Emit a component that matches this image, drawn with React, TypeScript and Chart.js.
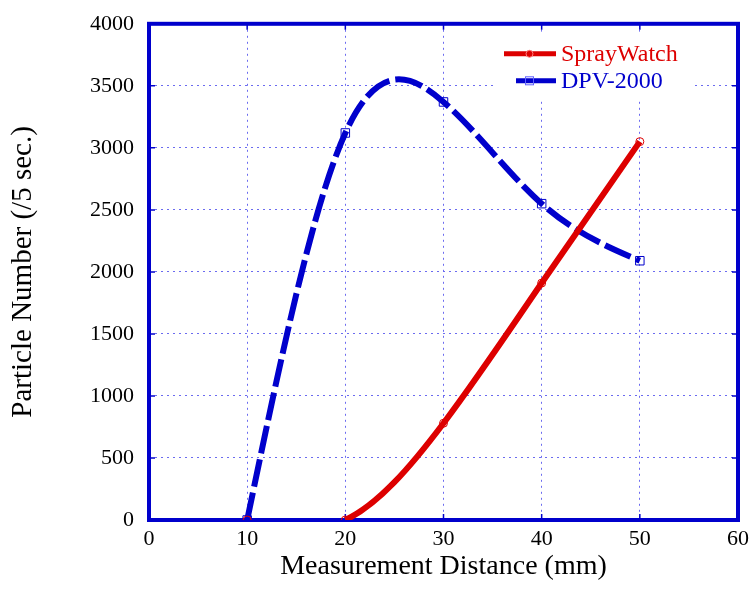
import React, { useEffect, useRef } from "react";
import { Chart, registerables } from "chart.js";

Chart.register(...registerables);

const distances = [10, 20, 30, 40, 50];
const sprayWatchValues = [0, 0, 780, 1910, 3050];
const dpvValues = [0, 3120, 3370, 2550, 2090];
const seriesNames = ["SprayWatch", "DPV-2000"];
const xTickValues = [0, 10, 20, 30, 40, 50, 60];
const yTickValues = [0, 500, 1000, 1500, 2000, 2500, 3000, 3500, 4000];
const xTitle = "Measurement Distance (mm)";
const yTitle = "Particle Number (/5 sec.)";

const AXIS_BLUE = "#0000cc";
const DPV_BLUE = "#0000cc";
const RED = "#dd0000";
const GRID = "#6b6bf0";
const FONT = "'Liberation Serif', 'Times New Roman', serif";

// Natural cubic spline: sets Bezier control points on the library's own point elements
const naturalSplinePlugin = {
  id: "naturalSpline",
  beforeDatasetsDraw(chart: any) {
    chart.data.datasets.forEach((ds: any, di: number) => {
      const meta = chart.getDatasetMeta(di);
      const line = meta.dataset;
      if (!line || !ds.naturalSpline || meta.hidden) return;
      line.updateControlPoints(chart.chartArea, meta.iScale ? meta.iScale.axis : "x");
      const pts = meta.data;
      const n = pts.length;
      if (n < 3) return;
      const xs = pts.map((p: any) => p.x);
      const ys = pts.map((p: any) => p.y);
      const h: number[] = [];
      for (let i = 0; i < n - 1; i++) h.push(xs[i + 1] - xs[i]);
      const M = new Array(n).fill(0);
      const a: number[] = [], b: number[] = [], c: number[] = [], d: number[] = [];
      for (let i = 1; i < n - 1; i++) {
        a.push(h[i - 1]);
        b.push(2 * (h[i - 1] + h[i]));
        c.push(h[i]);
        d.push(6 * ((ys[i + 1] - ys[i]) / h[i] - (ys[i] - ys[i - 1]) / h[i - 1]));
      }
      const m = a.length;
      const cp: number[] = new Array(m).fill(0);
      const dp: number[] = new Array(m).fill(0);
      for (let i = 0; i < m; i++) {
        const denom = b[i] - (i > 0 ? a[i] * cp[i - 1] : 0);
        cp[i] = c[i] / denom;
        dp[i] = (d[i] - (i > 0 ? a[i] * dp[i - 1] : 0)) / denom;
      }
      for (let i = m - 1; i >= 0; i--) {
        M[i + 1] = dp[i] - (i < m - 1 ? cp[i] * M[i + 2] : 0);
      }
      const D: number[] = [];
      for (let i = 0; i < n - 1; i++) {
        D.push((ys[i + 1] - ys[i]) / h[i] - (h[i] * (2 * M[i] + M[i + 1])) / 6);
      }
      D.push((ys[n - 1] - ys[n - 2]) / h[n - 2] + (h[n - 2] * (M[n - 2] + 2 * M[n - 1])) / 6);
      for (let i = 0; i < n; i++) {
        const p = pts[i];
        const hl = i > 0 ? h[i - 1] : 0;
        const hr = i < n - 1 ? h[i] : 0;
        p.cp1x = xs[i] - hl / 3;
        p.cp1y = ys[i] - (D[i] * hl) / 3;
        p.cp2x = xs[i] + hr / 3;
        p.cp2y = ys[i] + (D[i] * hr) / 3;
      }
    });
  },
};

// Frame, inward ticks and legend
const framePlugin = {
  id: "frame",
  beforeDatasetsDraw(chart: any) {
    const { ctx, chartArea: ca, scales } = chart;
    ctx.save();
    // legend background box (covers grid lines)
    ctx.fillStyle = "#ffffff";
    ctx.fillRect(ca.right - 244, ca.top + 8, 200, 69);
    ctx.strokeStyle = AXIS_BLUE;
    ctx.lineWidth = 1.5;
    const tl = 6;
    xTickValues.forEach((v) => {
      const x = scales.x.getPixelForValue(v);
      ctx.beginPath();
      ctx.moveTo(x, ca.top);
      ctx.lineTo(x, ca.top + tl);
      ctx.moveTo(x, ca.bottom);
      ctx.lineTo(x, ca.bottom - tl);
      ctx.stroke();
    });
    yTickValues.forEach((v) => {
      const y = scales.y.getPixelForValue(v);
      ctx.beginPath();
      ctx.moveTo(ca.left, y);
      ctx.lineTo(ca.left + tl, y);
      ctx.moveTo(ca.right, y);
      ctx.lineTo(ca.right - tl, y);
      ctx.stroke();
    });
    ctx.lineWidth = 4;
    ctx.strokeRect(ca.left, ca.top, ca.right - ca.left, ca.bottom - ca.top);
    ctx.restore();
  },
  afterDatasetsDraw(chart: any) {
    const { ctx, chartArea: ca } = chart;
    ctx.save();
    const textX = ca.right - 177;
    const lineEnd = ca.right - 182;
    const entries = [
      { label: seriesNames[0], color: RED, y: ca.top + 30, start: ca.right - 234, marker: "circle" },
      { label: seriesNames[1], color: DPV_BLUE, y: ca.top + 57, start: ca.right - 222, marker: "rect" },
    ];
    entries.forEach((e) => {
      ctx.strokeStyle = e.color;
      ctx.lineWidth = 5;
      ctx.beginPath();
      ctx.moveTo(e.start, e.y);
      ctx.lineTo(lineEnd, e.y);
      ctx.stroke();
      ctx.lineWidth = 1;
      const mx = ca.right - 208.5;
      if (e.marker === "circle") {
        ctx.beginPath();
        ctx.arc(mx, e.y, 3.5, 0, Math.PI * 2);
        ctx.fillStyle = e.color;
        ctx.fill();
        ctx.strokeStyle = "#ff8080";
        ctx.stroke();
      } else {
        ctx.strokeStyle = "#6060ff";
        ctx.strokeRect(mx - 4, e.y - 4, 8, 8);
      }
      ctx.fillStyle = e.color;
      ctx.font = `24px ${FONT}`;
      ctx.textBaseline = "middle";
      ctx.textAlign = "left";
      ctx.fillText(e.label, textX, e.y + 1);
    });
    ctx.restore();
  },
};

export default function App() {
  const canvasRef = useRef<HTMLCanvasElement | null>(null);

  useEffect(() => {
    const canvas = canvasRef.current;
    if (!canvas) return;
    const toPoints = (vals: number[]) => distances.map((x, i) => ({ x, y: vals[i] }));
    const chart = new Chart(canvas, {
      type: "line",
      data: {
        datasets: [
          {
            label: seriesNames[0],
            data: toPoints(sprayWatchValues),
            borderColor: RED,
            borderWidth: 6,
            tension: 0.4,
            naturalSpline: true,
            pointStyle: "circle",
            pointRadius: 4,
            pointBorderWidth: 1,
            pointBorderColor: RED,
            pointBackgroundColor: "rgba(0,0,0,0)",
            segment: {
              borderColor: (ctx: any) => (ctx.p0DataIndex === 0 ? "rgba(0,0,0,0)" : RED),
            },
            order: 1,
          } as any,
          {
            label: seriesNames[1],
            data: toPoints(dpvValues),
            borderColor: DPV_BLUE,
            borderWidth: 6,
            borderDash: [28, 6],
            tension: 0.4,
            naturalSpline: true,
            pointStyle: "rect",
            pointRadius: 6,
            pointBorderWidth: 1,
            pointBorderColor: DPV_BLUE,
            pointBackgroundColor: "rgba(0,0,0,0)",
            order: 2,
          } as any,
        ],
      },
      options: {
        responsive: false,
        animation: false,
        events: [],
        layout: { padding: { top: 23, right: 10, left: 0, bottom: 0 } },
        plugins: {
          legend: { display: false },
          tooltip: { enabled: false },
        },
        scales: {
          x: {
            type: "linear",
            min: 0,
            max: 60,
            afterBuildTicks: (s: any) => {
              s.ticks = xTickValues.map((v) => ({ value: v }));
            },
            afterFit: (s: any) => {
              s.height = 90;
            },
            grid: { color: GRID, lineWidth: 1, drawTicks: false },
            border: { display: false, dash: [2, 4] },
            ticks: {
              color: "#000",
              padding: 6,
              maxRotation: 0,
              font: { family: FONT, size: 22 },
              callback: (v: any) => String(v),
            },
            title: {
              display: true,
              text: xTitle,
              color: "#000",
              font: { family: FONT, size: 28, lineHeight: 1 },
              padding: { top: 0, bottom: 29 },
            },
          },
          y: {
            type: "linear",
            min: 0,
            max: 4000,
            afterBuildTicks: (s: any) => {
              s.ticks = yTickValues.map((v) => ({ value: v }));
            },
            afterFit: (s: any) => {
              s.width = 149;
            },
            grid: { color: GRID, lineWidth: 1, drawTicks: false },
            border: { display: false, dash: [2, 4] },
            ticks: {
              color: "#000",
              padding: 15,
              font: { family: FONT, size: 22, lineHeight: 0.8 },
              callback: (v: any) => String(v),
            },
            title: {
              display: true,
              text: yTitle,
              color: "#000",
              font: { family: FONT, size: 29, lineHeight: 1 },
              padding: { top: 9, bottom: 0 },
            },
          },
        },
      },
      plugins: [naturalSplinePlugin, framePlugin],
    } as any);
    return () => chart.destroy();
  }, []);

  return (
    <div style={{ position: "absolute", left: 0, top: 0, width: 755, height: 610, background: "#fff" }}>
      <canvas ref={canvasRef} width={755} height={610} style={{ display: "block" }} />
    </div>
  );
}
